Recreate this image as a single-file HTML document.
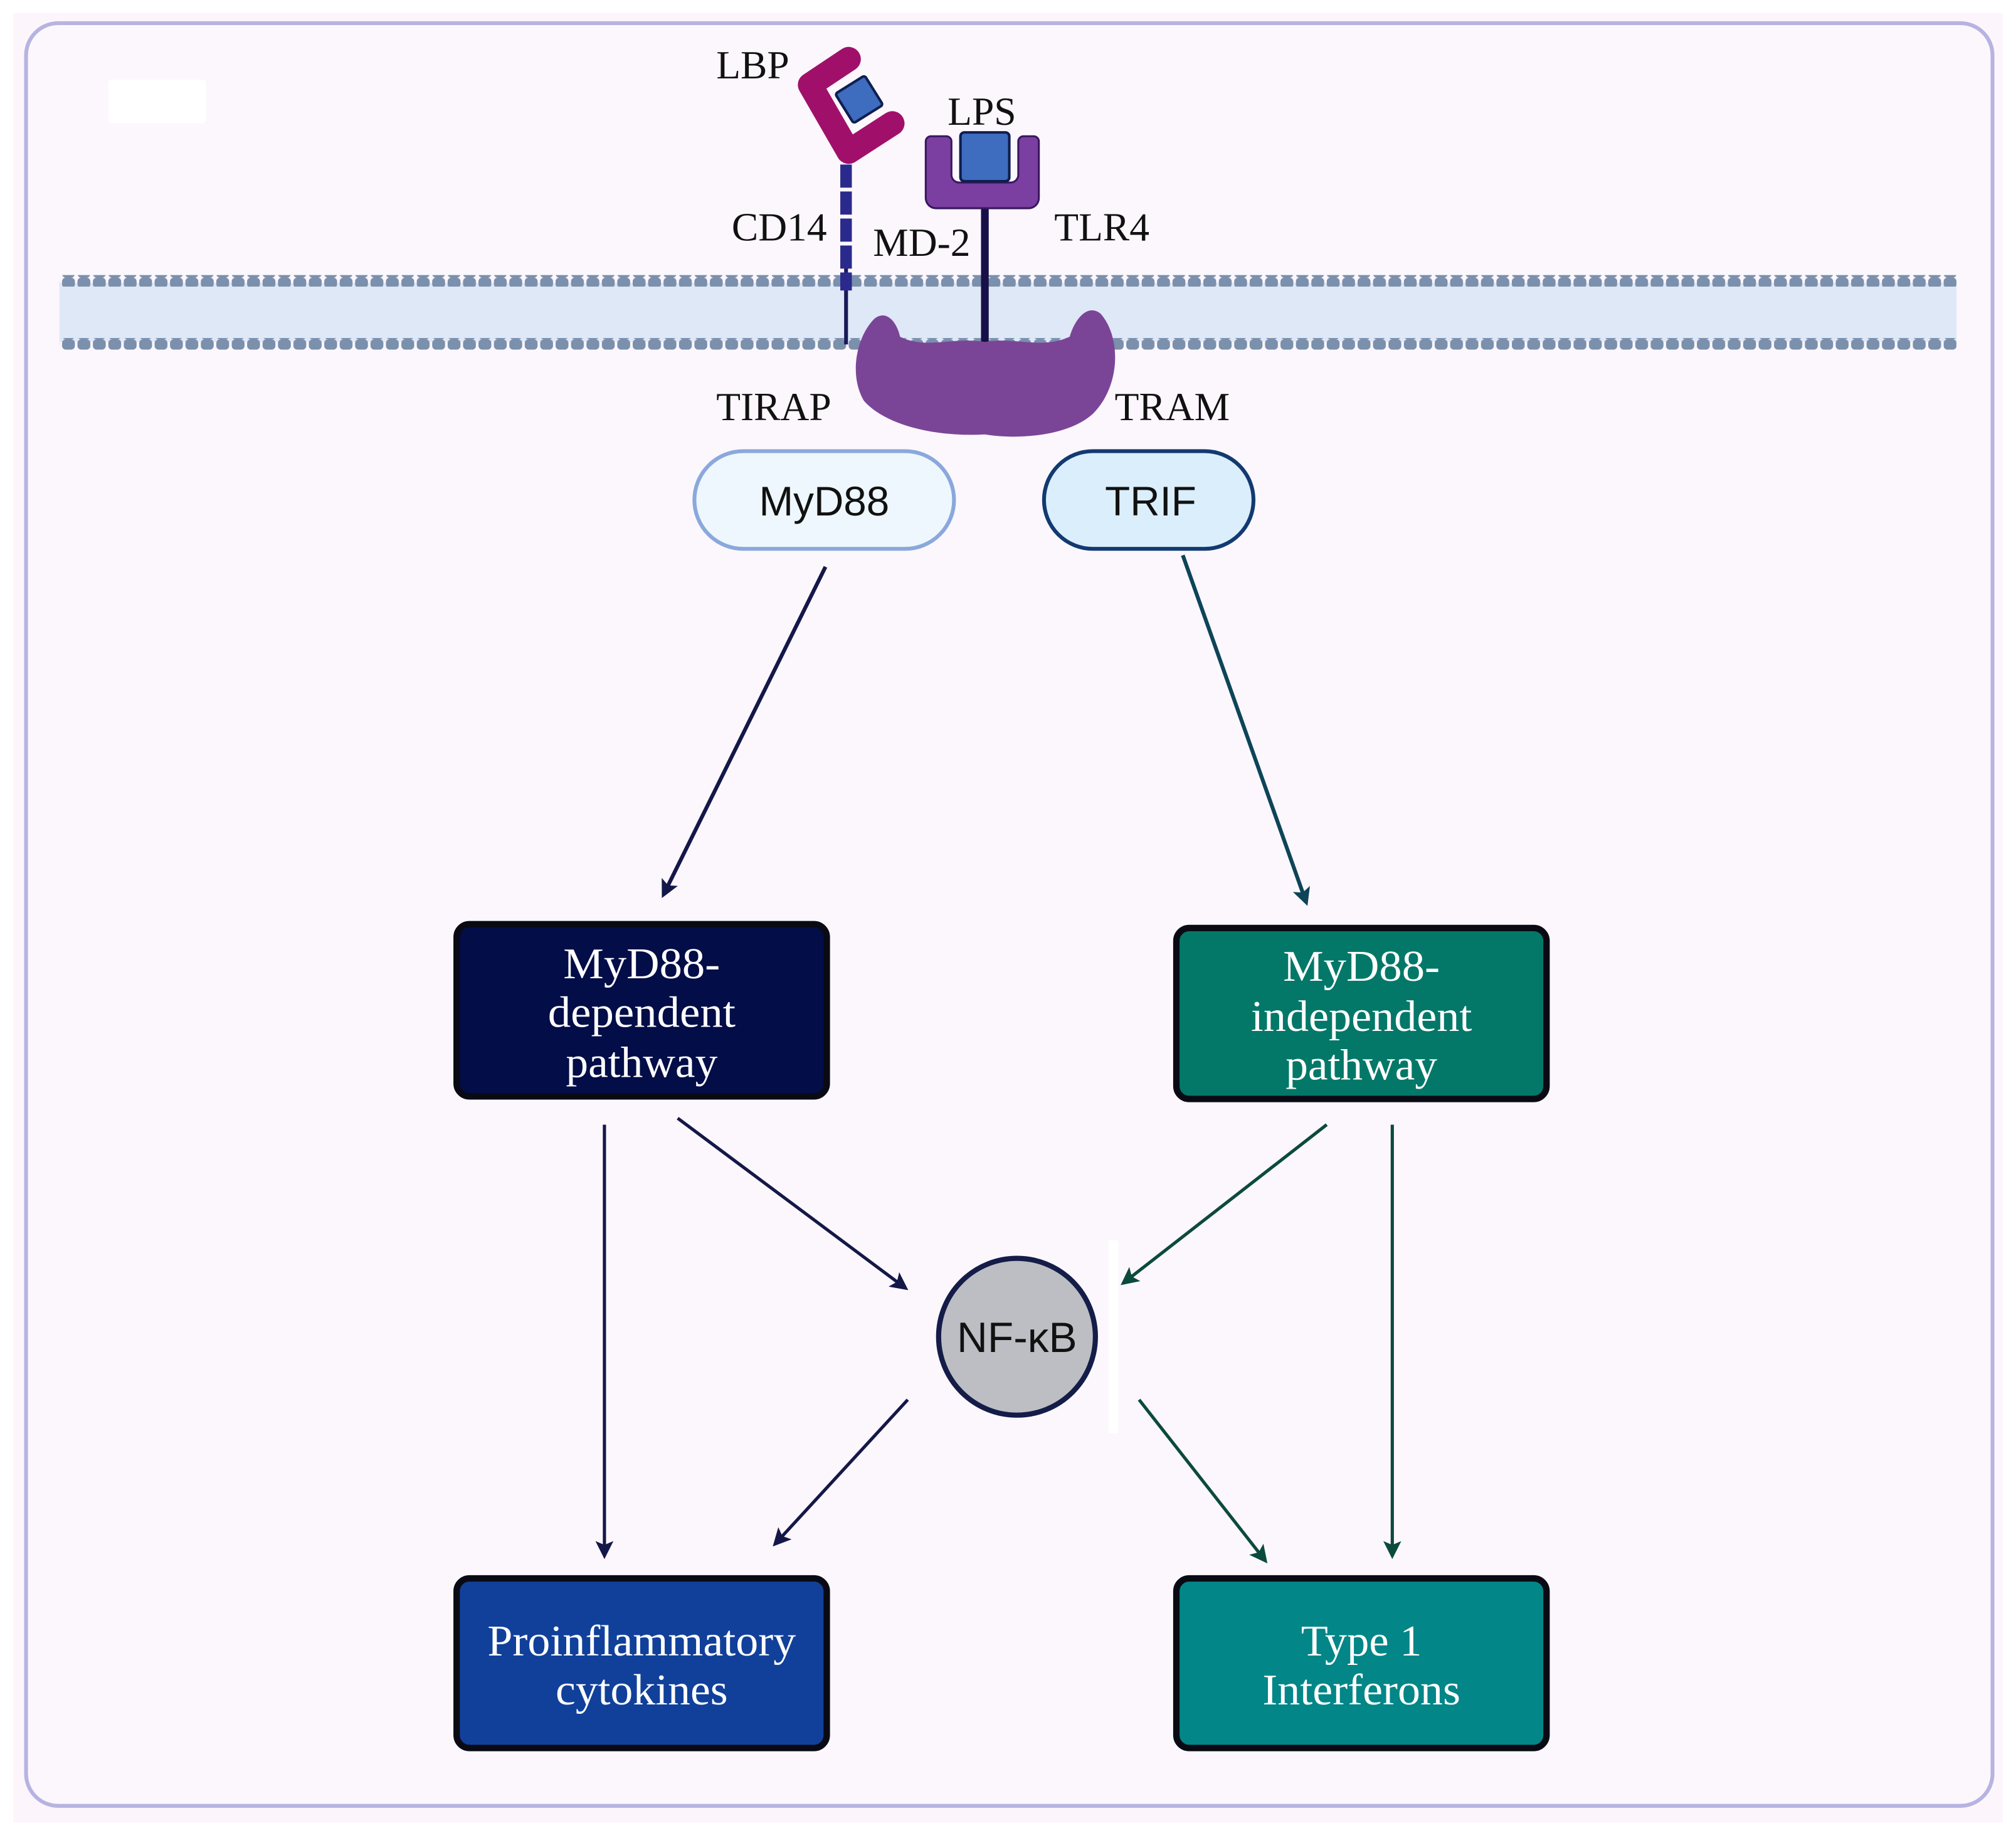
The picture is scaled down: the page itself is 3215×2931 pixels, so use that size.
<!DOCTYPE html>
<html><head><meta charset="utf-8"><style>
html,body{margin:0;padding:0;background:#fff;}
svg{display:block;}
.s{font-family:"Liberation Serif",serif;}
.a{font-family:"Liberation Sans",sans-serif;}
</style></head><body>
<svg width="3215" height="2931" viewBox="0 0 1568 1430" xmlns="http://www.w3.org/2000/svg">
<defs>
<marker id="mn" markerWidth="14" markerHeight="14" refX="11" refY="7" orient="auto" markerUnits="userSpaceOnUse"><path d="M0,0 L14,7 L0,14 L3,7 Z" fill="#141848"/></marker>
<marker id="mt" markerWidth="14" markerHeight="14" refX="11" refY="7" orient="auto" markerUnits="userSpaceOnUse"><path d="M0,0 L14,7 L0,14 L3,7 Z" fill="#0c4a3e"/></marker>
<marker id="mt2" markerWidth="14" markerHeight="14" refX="11" refY="7" orient="auto" markerUnits="userSpaceOnUse"><path d="M0,0 L14,7 L0,14 L3,7 Z" fill="#0e4458"/></marker>
<pattern id="dash" width="12" height="8" patternUnits="userSpaceOnUse"><rect width="10" height="8" rx="3" fill="#7a90ac"/></pattern>
</defs>
<rect x="0" y="0" width="1568" height="1430" fill="#fff"/>
<rect x="10" y="10" width="1548" height="1408" fill="#fcf6fc"/>
<rect x="20" y="18" width="1530" height="1387" rx="25" fill="#fcf7fd" stroke="#b7b3e1" stroke-width="3"/>
<rect x="84" y="62" width="76" height="34" rx="3" fill="#fff"/>
<!-- membrane -->
<rect x="46" y="220" width="1476" height="46" fill="#dfe8f7"/>
<rect x="46" y="214" width="1476" height="9" fill="url(#dash)"/>
<rect x="46" y="263" width="1476" height="9" fill="url(#dash)"/>
<!-- CD14 -->
<line x1="658" y1="200" x2="658" y2="268" stroke="#1a1a5a" stroke-width="3"/>
<line x1="658" y1="128" x2="658" y2="226" stroke="#2a2a8c" stroke-width="9" stroke-dasharray="18,3"/>
<!-- LBP -->
<path d="M660,46 L630,66 L660,118 L694,96" fill="none" stroke="#a0106a" stroke-width="19" stroke-linejoin="round" stroke-linecap="round"/>
<rect x="655" y="64" width="27" height="27" rx="2" fill="#3e6cbe" stroke="#0e1e50" stroke-width="2" transform="rotate(-32 668 78)"/>
<!-- TLR4 -->
<line x1="766" y1="160" x2="766" y2="268" stroke="#170f48" stroke-width="6"/>
<path d="M728,106 h8 a4,4 0 0 1 4,4 v26 a6,6 0 0 0 6,6 h40 a6,6 0 0 0 6,-6 v-26 a4,4 0 0 1 4,-4 h8 a4,4 0 0 1 4,4 v44 a8,8 0 0 1 -8,8 h-72 a8,8 0 0 1 -8,-8 v-44 a4,4 0 0 1 4,-4 z" fill="#7a3fa0" stroke="#3a1660" stroke-width="1.5"/>
<rect x="747" y="103" width="38" height="38" rx="3" fill="#3e6cbe" stroke="#0e1e50" stroke-width="2"/>
<!-- blob -->
<path d="M680,248 C690,240 698,252 700,262 C720,272 740,262 766,266 C790,262 810,272 832,262 C836,248 846,236 856,244 C872,262 872,300 850,322 C830,340 790,342 766,338 C730,340 690,332 672,312 C660,292 666,262 680,248 Z" fill="#7b4597"/>
<!-- labels -->
<g class="s" font-size="31" fill="#111">
<text x="557" y="61">LBP</text>
<text x="737" y="97">LPS</text>
<text x="569" y="187">CD14</text>
<text x="679" y="199">MD-2</text>
<text x="820" y="187">TLR4</text>
<text x="557" y="327">TIRAP</text>
<text x="867" y="327">TRAM</text>
</g>
<!-- pills -->
<rect x="540" y="351" width="202" height="76" rx="38" fill="#eef7fd" stroke="#8aa8dc" stroke-width="3"/>
<text x="641" y="401" class="a" font-size="32" text-anchor="middle" fill="#111">MyD88</text>
<rect x="812" y="351" width="163" height="76" rx="38" fill="#dbeefc" stroke="#123a70" stroke-width="3"/>
<text x="895" y="401" class="a" font-size="32" text-anchor="middle" fill="#111">TRIF</text>
<!-- arrows -->
<line x1="642" y1="441" x2="516" y2="696" stroke="#141848" stroke-width="3" marker-end="url(#mn)"/>
<line x1="920" y1="432" x2="1016" y2="702" stroke="#0e4458" stroke-width="3" marker-end="url(#mt2)"/>
<!-- boxes -->
<rect x="355" y="719" width="288" height="134" rx="10" fill="#030d47" stroke="#0a0a14" stroke-width="5"/>
<g class="s" font-size="34" fill="#fff" text-anchor="middle">
<text x="499" y="761" textLength="122" lengthAdjust="spacingAndGlyphs">MyD88-</text>
<text x="499" y="799" textLength="146" lengthAdjust="spacingAndGlyphs">dependent</text>
<text x="499" y="838" textLength="118" lengthAdjust="spacingAndGlyphs">pathway</text>
</g>
<rect x="915" y="722" width="288" height="133" rx="10" fill="#047868" stroke="#0a0a14" stroke-width="5"/>
<g class="s" font-size="34" fill="#fff" text-anchor="middle">
<text x="1059" y="763" textLength="122" lengthAdjust="spacingAndGlyphs">MyD88-</text>
<text x="1059" y="802" textLength="172" lengthAdjust="spacingAndGlyphs">independent</text>
<text x="1059" y="840" textLength="118" lengthAdjust="spacingAndGlyphs">pathway</text>
</g>
<line x1="470" y1="875" x2="470" y2="1210" stroke="#141848" stroke-width="2.5" marker-end="url(#mn)"/>
<line x1="527" y1="870" x2="704" y2="1002" stroke="#141848" stroke-width="2.5" marker-end="url(#mn)"/>
<line x1="1032" y1="875" x2="874" y2="998" stroke="#0c4a3e" stroke-width="2.5" marker-end="url(#mt)"/>
<line x1="1083" y1="875" x2="1083" y2="1210" stroke="#0c4a3e" stroke-width="2.5" marker-end="url(#mt)"/>
<line x1="706" y1="1089" x2="603" y2="1201" stroke="#141848" stroke-width="2.5" marker-end="url(#mn)"/>
<line x1="886" y1="1089" x2="984" y2="1214" stroke="#0c4a3e" stroke-width="2.5" marker-end="url(#mt)"/>
<rect x="862" y="965" width="8" height="150" fill="#fff"/>
<circle cx="791" cy="1040" r="61" fill="#bcbec3" stroke="#141c48" stroke-width="4"/>
<text x="791" y="1052" class="a" font-size="33" text-anchor="middle" fill="#111">NF-κB</text>
<rect x="355" y="1228" width="288" height="132" rx="10" fill="#11409a" stroke="#0a0a14" stroke-width="5"/>
<g class="s" font-size="34" fill="#fff" text-anchor="middle">
<text x="499" y="1288" textLength="240" lengthAdjust="spacingAndGlyphs">Proinflammatory</text>
<text x="499" y="1326" textLength="134" lengthAdjust="spacingAndGlyphs">cytokines</text>
</g>
<rect x="915" y="1228" width="288" height="132" rx="10" fill="#028688" stroke="#0a0a14" stroke-width="5"/>
<g class="s" font-size="34" fill="#fff" text-anchor="middle">
<text x="1059" y="1288" textLength="94" lengthAdjust="spacingAndGlyphs">Type 1</text>
<text x="1059" y="1326" textLength="154" lengthAdjust="spacingAndGlyphs">Interferons</text>
</g>
</svg>
</body></html>
